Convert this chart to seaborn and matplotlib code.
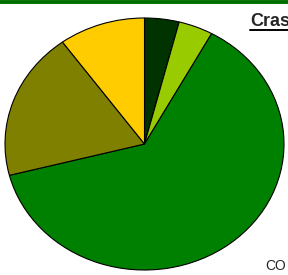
import matplotlib
matplotlib.use("Agg")
import matplotlib.pyplot as plt
import seaborn as sns

# slice data, clockwise from 12 o'clock
labels = ["A", "B", "C", "D", "E"]
shares = [4, 4, 63, 19, 10]
colors = ["#003300", "#99CC00", "#008000", "#808000", "#FFCC00"]

title_text = "Crashes"
corner_text = "CO"

sns.set_style("white")
plt.rcParams["font.family"] = ["Liberation Sans", "DejaVu Sans"]

W, H = 288, 275
fig = plt.figure(figsize=(W / 100, H / 100), dpi=100)
ax = fig.add_axes([0, 0, 1, 1])

# pie is stretched into an ellipse (wider than tall)
cx, cy = 144.5, 144.0
rx, ry = 139.5, 126.0

ax.pie(shares, colors=colors, startangle=90, counterclock=False,
       wedgeprops=dict(edgecolor="black", linewidth=0.8))
ax.set_aspect("auto")
ax.set_xlim(-cx / rx, (W - cx) / rx)
ax.set_ylim(-(H - cy) / ry, cy / ry)
ax.axis("off")

# green rule across the top
fig.add_artist(plt.Line2D([0, 1], [1 - 1.8 / H, 1 - 1.8 / H],
                          color="#006f00", linewidth=2.8))

fig.text(250 / W, 1 - 26 / H, title_text, fontsize=13,
         fontweight="bold", ha="left", va="baseline")
fig.add_artist(plt.Line2D([250 / W, 1], [1 - 29.5 / H, 1 - 29.5 / H],
                          color="black", linewidth=1.4))
fig.text(265 / W, 1 - 270 / H, corner_text, fontsize=10,
         ha="left", va="baseline")

fig.savefig("out.png", dpi=100)
